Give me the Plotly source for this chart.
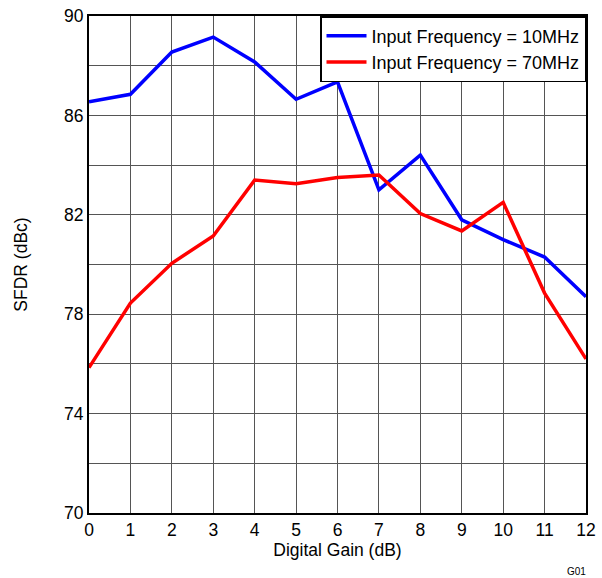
import plotly.graph_objects as go

gain_db = list(range(13))
sfdr_10mhz = [86.55, 86.85, 88.55, 89.15, 88.15, 86.65, 87.35, 83.0, 84.4, 81.8, 81.0, 80.3, 78.7]
sfdr_70mhz = [75.85, 78.45, 80.05, 81.15, 83.4, 83.25, 83.5, 83.6, 82.05, 81.35, 82.5, 78.85, 76.2]
y_ticks = [70, 74, 78, 82, 86, 90]

FONT = "Liberation Sans, Arial, sans-serif"

fig = go.Figure()
fig.add_trace(go.Scatter(x=gain_db, y=sfdr_10mhz, mode="lines",
                         name="Input Frequency = 10MHz",
                         line=dict(color="#0000ff", width=3.5)))
fig.add_trace(go.Scatter(x=gain_db, y=sfdr_70mhz, mode="lines",
                         name="Input Frequency = 70MHz",
                         line=dict(color="#ff0000", width=3.5)))

fig.update_layout(
    width=602, height=578,
    margin=dict(l=89, r=16, t=16, b=65),
    paper_bgcolor="white", plot_bgcolor="white",
    font=dict(family=FONT, size=17.5, color="black"),
    showlegend=True,
    legend=dict(x=1, y=1, xanchor="right", yanchor="top",
                bgcolor="white", bordercolor="black", borderwidth=1.5,
                font=dict(family=FONT, size=18), tracegroupgap=0,
                itemwidth=40),
    xaxis=dict(range=[0, 12], tickmode="array", tickvals=gain_db,
               ticktext=[str(v) for v in gain_db], automargin=False,
               showgrid=True, gridcolor="#555555", gridwidth=1,
               showline=True, linecolor="black", linewidth=2, mirror=True,
               ticks="", zeroline=False,
               title=dict(text="Digital Gain (dB)", standoff=4,
                          font=dict(family=FONT, size=17.5))),
    yaxis=dict(range=[70, 90], tickmode="array", tickvals=y_ticks,
               ticktext=[str(v) for v in y_ticks], automargin=False,
               showgrid=True, gridcolor="#555555", gridwidth=1,
               minor=dict(dtick=2, showgrid=True, gridcolor="#555555", gridwidth=1),
               showline=True, linecolor="black", linewidth=2, mirror=True,
               ticks="", zeroline=False,
               title=dict(text="SFDR (dBc)", standoff=32,
                          font=dict(family=FONT, size=17.5))),
)

fig.add_annotation(text="G01", xref="paper", yref="paper", x=1.0, y=0.0,
                   xanchor="right", yanchor="bottom", showarrow=False,
                   xshift=2, yshift=-66, font=dict(family=FONT, size=10, color="black"))

fig.write_html("out.html", config={"displayModeBar": False},
               post_script="document.body.style.margin='0';document.body.style.padding='0';")
